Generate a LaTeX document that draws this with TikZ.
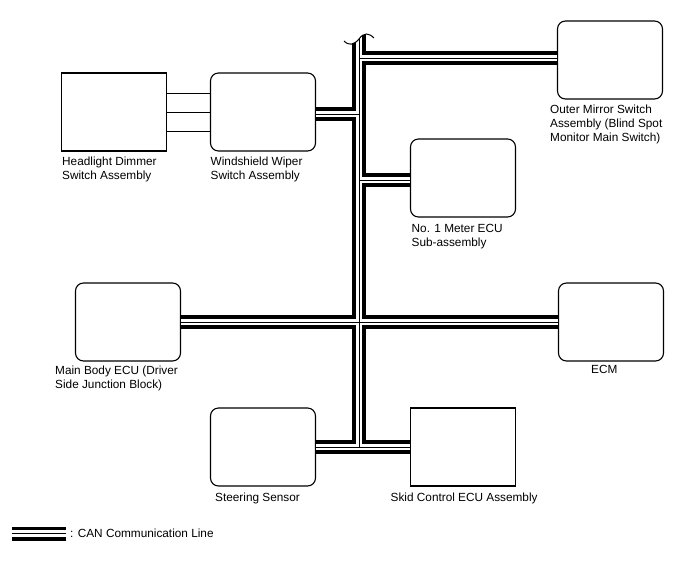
\documentclass[tikz,border=0pt]{standalone}
\usepackage{fontspec}
\setmainfont{Liberation Sans}
\usetikzlibrary{positioning,calc}

\tikzset{
  unit/.style={draw,line width=1.1pt,rounded corners=8pt,minimum width=105pt,minimum height=78pt,inner sep=0pt},
  squnit/.style={unit,rounded corners=0pt},
  lbl/.style={anchor=north west,inner sep=0pt,align=left,font=\fontsize{11.8}{14}\selectfont},
  canout/.style={line width=14pt},
  canin/.style={white,line width=6.4pt},
  canmid/.style={line width=0.9pt},
  wire/.style={line width=0.9pt}
}

% one pass over every CAN run, drawn once per layer
\newcommand{\canruns}[1]{%
  \draw[#1] (bustop) -- (jbottom);
  \draw[#1] (jmirror) -- (mirror.west |- jmirror);
  \draw[#1] (wiper.east |- jwiper) -- (jwiper);
  \draw[#1] (jmeter) -- (meter.west |- jmeter);
  \draw[#1] (mainbody.east |- jmain) -- (ecm.west |- jmain);
  \draw[#1] (steering.east |- jbottom) -- (skid.west |- jbottom);
  \draw[#1] (lega) -- (legb);
}

\begin{document}
\begin{tikzpicture}[x=1pt,y=-1pt]
  \useasboundingbox (0,0) rectangle (688,560);

  % units
  \node[squnit] (headlight) at (114,112) {};
  \node[unit] (wiper) at (263,112) {};
  \node[unit] (mirror) at (610,60) {};
  \node[unit] (meter) at (463,178) {};
  \node[unit] (mainbody) at (128,322) {};
  \node[unit] (ecm) at (611,322) {};
  \node[unit] (steering) at (263,447) {};
  \node[squnit] (skid) at (463,447) {};

  % bus junctions
  \coordinate (bustop) at (359,30);
  \coordinate (jmirror) at (359,58);
  \coordinate (jwiper) at (359,114);
  \coordinate (jmeter) at (359,180);
  \coordinate (jmain) at (359,322);
  \coordinate (jbottom) at (359,447);
  \coordinate (lega) at (12,533.5);
  \coordinate (legb) at (66,533.5);

  \canruns{canout}
  \canruns{canin}
  \canruns{canmid}

  % break mark at the top of the bus
  \fill[white] (340,20) -- (340,41) .. controls (347,46) and (354,45) .. (359,39)
    .. controls (364,32) and (369,33) .. (376,38) -- (376,20) -- cycle;
  \draw[line width=1pt] (344,41) .. controls (349,46) and (354,45) .. (359,39)
    .. controls (364,32) and (369,33) .. (374,38);

  % headlight dimmer to wiper switch
  \draw[wire] (headlight.east |- 0,93) -- (wiper.west |- 0,93);
  \draw[wire] (headlight.east) -- (wiper.west);
  \draw[wire] (headlight.east |- 0,131) -- (wiper.west |- 0,131);

  % labels
  \node[lbl] (headlightlbl) at (62,156.5) {Headlight Dimmer\\Switch Assembly};
  \node[lbl] (wiperlbl) at (210.5,156.5) {Windshield Wiper\\Switch Assembly};
  \node[lbl] (mirrorlbl) at (550,104.5) {Outer Mirror Switch\\Assembly (Blind Spot\\Monitor Main Switch)};
  \node[lbl] (meterlbl) at (411.5,224) {No. 1 Meter ECU\\Sub-assembly};
  \node[lbl] (mainbodylbl) at (55,365.5) {Main Body ECU (Driver\\Side Junction Block)};
  \node[lbl] (ecmlbl) at (591,365.5) {ECM};
  \node[lbl] (steeringlbl) at (215,492.5) {Steering Sensor};
  \node[lbl] (skidlbl) at (390.5,492.5) {Skid Control ECU Assembly};
  \node[lbl,anchor=west] (leglbl) at (70,533) {: CAN Communication Line};
\end{tikzpicture}
\end{document}
